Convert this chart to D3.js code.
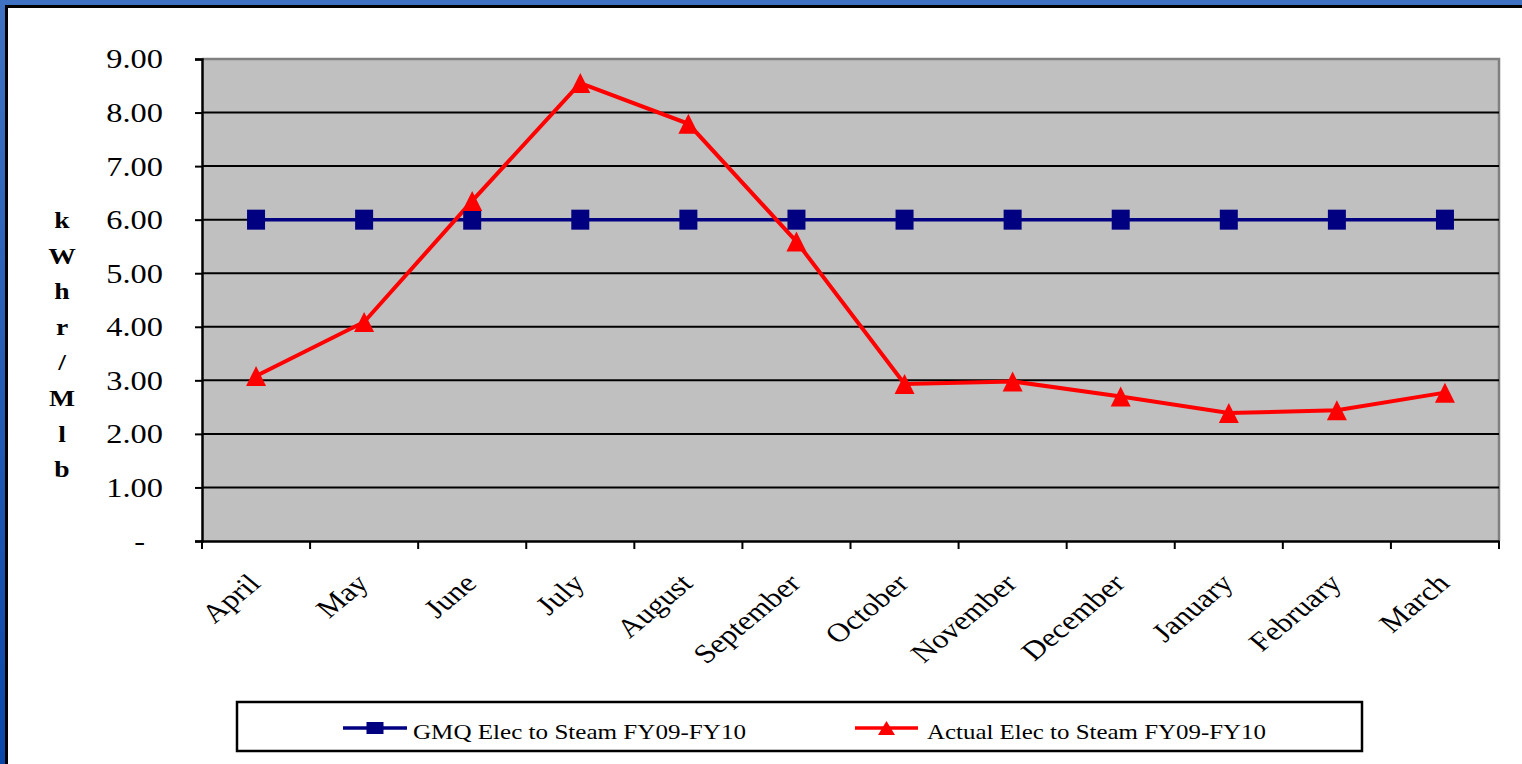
<!DOCTYPE html>
<html>
<head>
<meta charset="utf-8">
<script src="https://cdn.jsdelivr.net/npm/d3@7"></script>
<style>
  html, body { margin: 0; padding: 0; background: #ffffff; }
  svg { display: block; }
  svg text { font-family: "Liberation Serif", "Times New Roman", serif; fill: #000; }
</style>
</head>
<body>
<svg id="chart" width="1522" height="764"></svg>
<script>
// ---- data ----
const months = ["April","May","June","July","August","September","October","November","December","January","February","March"];
const gmqValues = [6.00,6.00,6.00,6.00,6.00,6.00,6.00,6.00,6.00,6.00,6.00,6.00];
const actualValues = [3.08,4.09,6.35,8.55,7.79,5.59,2.93,2.98,2.70,2.39,2.44,2.77];
const yTicks = [0,1,2,3,4,5,6,7,8,9];
const yTitleLetters = ["k","W","h","r","/","M","l","b"];
const seriesNames = ["GMQ Elec to Steam FY09-FY10","Actual Elec to Steam FY09-FY10"];

const svg = d3.select("#chart");
const W = 1522, H = 764;

// ---- frame ----
const defs = svg.append("defs");
const grad = defs.append("linearGradient").attr("id","frameGrad")
  .attr("x1","0").attr("y1","0").attr("x2","0").attr("y2","1");
grad.append("stop").attr("offset","0").attr("stop-color","#3f72c2");
grad.append("stop").attr("offset","1").attr("stop-color","#0a47a8");
svg.append("rect").attr("x",0).attr("y",0).attr("width",W).attr("height",H).attr("fill","url(#frameGrad)");
svg.append("rect").attr("x",5).attr("y",5).attr("width",W-5).attr("height",H-5).attr("fill","#000");
svg.append("rect").attr("x",8).attr("y",8).attr("width",W-8).attr("height",H-8).attr("fill","#fff");

// ---- scales ----
const plot = {left: 202, right: 1499, top: 59, bottom: 541};
const x = d3.scaleBand().domain(months).range([plot.left, plot.right]).paddingInner(0).paddingOuter(0);
const y = d3.scaleLinear().domain([0, 9]).range([plot.bottom, plot.top]);
const cx = m => x(m) + x.bandwidth() / 2;

// plot background
svg.append("rect")
  .attr("x", plot.left).attr("y", plot.top)
  .attr("width", plot.right - plot.left).attr("height", plot.bottom - plot.top)
  .attr("fill", "#c0c0c0");
// top & right gray border
svg.append("path")
  .attr("d", `M${plot.left},${plot.top}H${plot.right}V${plot.bottom}`)
  .attr("fill","none").attr("stroke","#808080").attr("stroke-width",2.5);

// gridlines
svg.append("g").selectAll("line").data(yTicks.filter(t => t > 0 && t < 9)).join("line")
  .attr("x1", plot.left).attr("x2", plot.right)
  .attr("y1", d => y(d)).attr("y2", d => y(d))
  .attr("stroke", "#000").attr("stroke-width", 2);

// y axis
const yAxis = d3.axisLeft(y).tickValues(yTicks).tickSize(7).tickFormat("");
const gy = svg.append("g").attr("transform", `translate(${plot.left},0)`).call(yAxis);
gy.select(".domain").attr("stroke","#000").attr("stroke-width",2.5);
gy.selectAll(".tick line").attr("stroke","#000").attr("stroke-width",2);

// y tick labels
const fmt = d3.format(".2f");
svg.append("g").selectAll("text").data(yTicks).join("text")
  .attr("transform", d => d === 0 ? `translate(145,${y(d)}) scale(1.2,1)` : `translate(163,${y(d)}) scale(1.2,1)`)
  .attr("text-anchor","end").attr("dy","0.35em")
  .style("font-size","27px")
  .text(d => d === 0 ? "-" : fmt(d));

// x axis
const xAxis = d3.axisBottom(x).tickSize(0).tickFormat("");
const gx = svg.append("g").attr("transform", `translate(0,${plot.bottom})`).call(xAxis);
gx.select(".domain").attr("stroke","#000").attr("stroke-width",2.5);
const xTickPos = months.map(m => x(m)).concat([plot.right]);
svg.append("g").selectAll("line").data(xTickPos).join("line")
  .attr("x1", d => d).attr("x2", d => d)
  .attr("y1", plot.bottom).attr("y2", plot.bottom + 8)
  .attr("stroke","#000").attr("stroke-width",2);

// x labels
svg.append("g").selectAll("text").data(months).join("text")
  .attr("transform", d => `translate(${cx(d) + 6},585) scale(1.2,1) rotate(-45)`)
  .attr("text-anchor","end")
  .style("font-size","26.5px")
  .text(d => d);

// y title stacked letters
svg.append("g").selectAll("text").data(yTitleLetters).join("text")
  .attr("transform", (d,i) => `translate(62,${228 + i * 35.6}) scale(1.15,1)`)
  .attr("text-anchor","middle")
  .style("font-size","24px").style("font-weight","bold")
  .text(d => d);

// ---- series ----
const line = d3.line().x((d,i) => cx(months[i])).y(d => y(d));

svg.append("path").datum(gmqValues).attr("d", line)
  .attr("fill","none").attr("stroke","#000080").attr("stroke-width",3.5);
svg.append("path").datum(actualValues).attr("d", line)
  .attr("fill","none").attr("stroke","#ff0000").attr("stroke-width",4);

const sq = 18;
svg.append("g").selectAll("rect").data(gmqValues).join("rect")
  .attr("x", (d,i) => cx(months[i]) - sq/2).attr("y", d => y(d) - 10)
  .attr("width", sq).attr("height", 20)
  .attr("fill","#000080");

const tri = (px, py, w, h) => `M${px},${py - h/2}L${px + w/2},${py + h/2}L${px - w/2},${py + h/2}Z`;
svg.append("g").selectAll("path").data(actualValues).join("path")
  .attr("d", (d,i) => tri(cx(months[i]), y(d), 20, 20))
  .attr("fill","#ff0000");

// ---- legend ----
svg.append("rect").attr("x",237).attr("y",702).attr("width",1125).attr("height",49)
  .attr("fill","#fff").attr("stroke","#000").attr("stroke-width",2.5);

const legendItems = [
  {name: seriesNames[0], color: "#000080", x0: 343, x1: 407, tx: 413, tl: 333, marker: "square"},
  {name: seriesNames[1], color: "#ff0000", x0: 855, x1: 918, tx: 927, tl: 339, marker: "triangle"}
];
const lg = svg.append("g").selectAll("g").data(legendItems).join("g");
lg.append("line")
  .attr("x1", d => d.x0).attr("x2", d => d.x1).attr("y1", 728).attr("y2", 728)
  .attr("stroke", d => d.color).attr("stroke-width", 3.5);
lg.each(function(d) {
  const g = d3.select(this);
  const mx = (d.x0 + d.x1) / 2;
  if (d.marker === "square") {
    g.append("rect").attr("x", mx - 8.5).attr("y", 722).attr("width", 17).attr("height", 12).attr("fill", d.color);
  } else {
    g.append("path").attr("d", tri(mx, 728, 17, 14)).attr("fill", d.color);
  }
});
lg.append("text")
  .attr("x", d => d.tx).attr("y", 739)
  .attr("textLength", d => d.tl).attr("lengthAdjust","spacingAndGlyphs")
  .style("font-size","22px")
  .text(d => d.name);
</script>
</body>
</html>
